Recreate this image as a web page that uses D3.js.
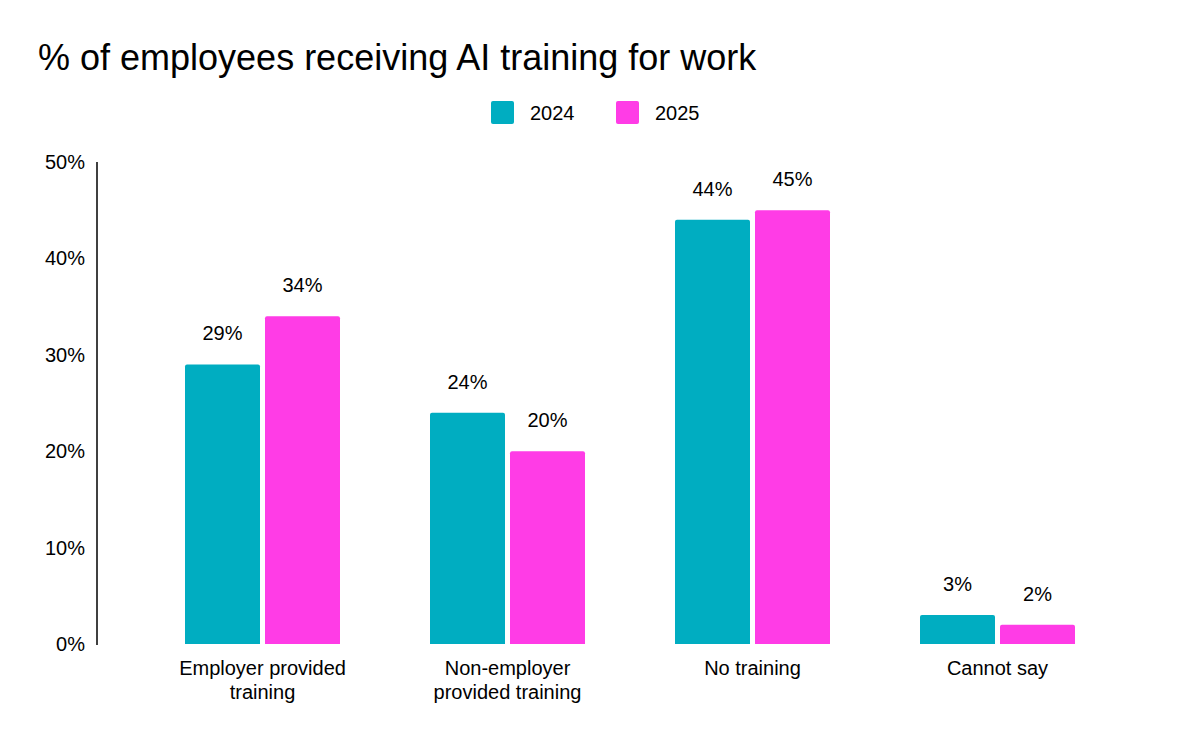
<!DOCTYPE html>
<html><head><meta charset="utf-8">
<script src="https://cdn.jsdelivr.net/npm/d3@7"></script>
<style>body{margin:0;background:#fff;font-family:"Liberation Sans",Arial,sans-serif}</style>
</head><body><div id="chart"></div>
<script>
const categories = [["Employer provided", "training"], ["Non-employer", "provided training"], ["No training"], ["Cannot say"]];
const seriesNames = ["2024", "2025"];
const values2024 = [29, 24, 44, 3];
const values2025 = [34, 20, 45, 2];
const yTicks = [0, 10, 20, 30, 40, 50];
const colors = ["#00adc1", "#ff3ce6"];

const width = 1200, height = 742;
const svg = d3.select("#chart").append("svg").attr("width", width).attr("height", height);

svg.append("text").attr("x", 38).attr("y", 70).style("font-size", "36px").attr("fill", "#000")
  .text("% of employees receiving AI training for work");

const x = d3.scaleBand().domain(d3.range(categories.length)).range([140, 1120]);
const y = d3.scaleLinear().domain([0, 50]).range([644, 162]);
const barW = 75, gap = 5;

svg.append("line").attr("x1", 97).attr("x2", 97).attr("y1", 162).attr("y2", 645).attr("stroke", "#000").attr("stroke-width", 1.5);

svg.selectAll(".yt").data(yTicks).enter().append("text")
  .attr("x", 85).attr("y", d => y(d) + 7).attr("text-anchor", "end").style("font-size", "20px")
  .text(d => d + "%");

const series = [values2024, values2025];
series.forEach((vals, s) => {
  const off = s === 0 ? -gap / 2 - barW : gap / 2;
  svg.selectAll(".b" + s).data(vals).enter().append("path")
    .attr("fill", colors[s])
    .attr("d", (d, i) => {
      const x0 = x(i) + x.bandwidth() / 2 + off, y0 = y(d), h = y(0) - y(d), r = 2;
      return `M${x0},${y0 + h}V${y0 + r}Q${x0},${y0} ${x0 + r},${y0}H${x0 + barW - r}Q${x0 + barW},${y0} ${x0 + barW},${y0 + r}V${y0 + h}Z`;
    });
  svg.selectAll(".l" + s).data(vals).enter().append("text")
    .attr("x", (d, i) => x(i) + x.bandwidth() / 2 + off + barW / 2)
    .attr("y", d => y(d) - 24).attr("text-anchor", "middle").style("font-size", "20px")
    .text(d => d + "%");
});

categories.forEach((lines, i) => {
  const t = svg.append("text").attr("text-anchor", "middle").style("font-size", "20px");
  lines.forEach((ln, j) => t.append("tspan").attr("x", x(i) + x.bandwidth() / 2).attr("y", 675 + j * 24).text(ln));
});

const lg = svg.append("g");
[491, 616].forEach((lx, i) => {
  lg.append("rect").attr("x", lx).attr("y", 101).attr("width", 23).attr("height", 23).attr("rx", 2).attr("fill", colors[i]);
  lg.append("text").attr("x", lx + 39).attr("y", 120).style("font-size", "20px").text(seriesNames[i]);
});
</script></body></html>
